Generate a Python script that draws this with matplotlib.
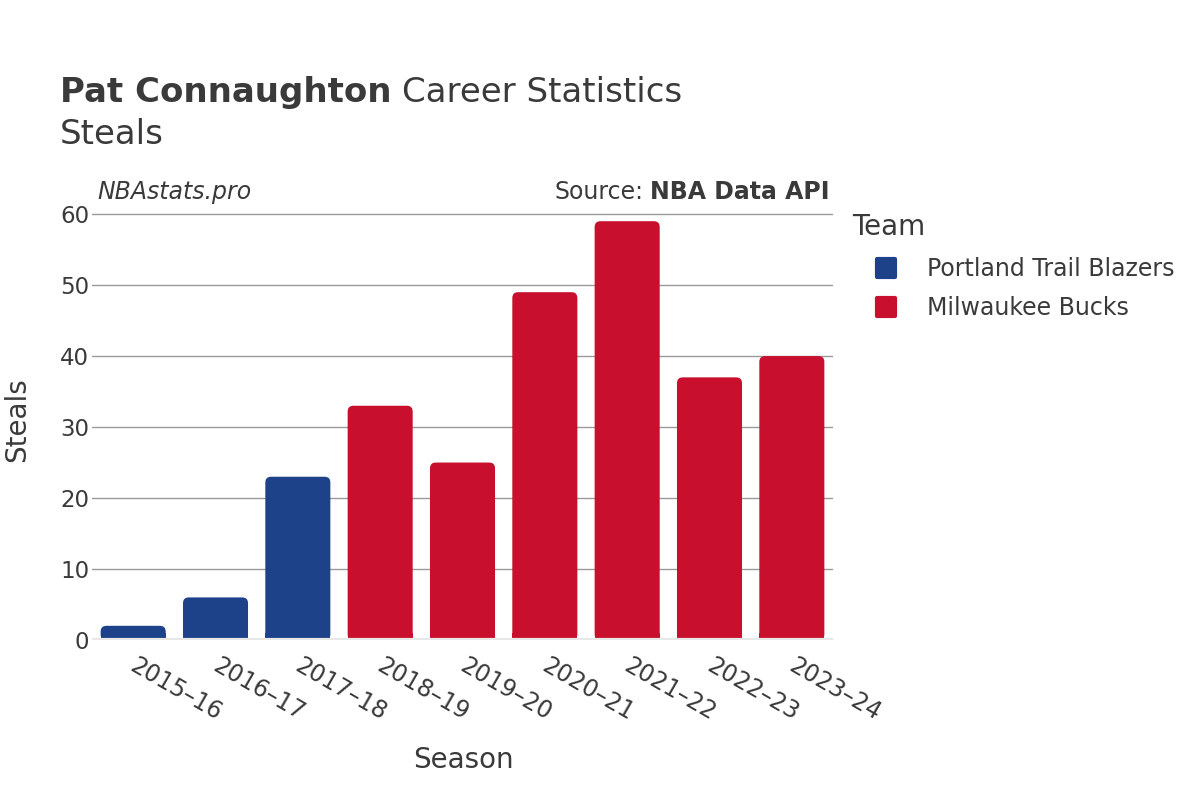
import matplotlib
matplotlib.use("Agg")
import matplotlib.pyplot as plt
from matplotlib.patches import FancyBboxPatch
from matplotlib.lines import Line2D
from matplotlib.markers import MarkerStyle

seasons = ["2015–16", "2016–17", "2017–18", "2018–19", "2019–20",
           "2020–21", "2021–22", "2022–23", "2023–24"]
steals = [2, 6, 23, 33, 25, 49, 59, 37, 40]
teams = ["Portland Trail Blazers", "Portland Trail Blazers", "Portland Trail Blazers",
         "Milwaukee Bucks", "Milwaukee Bucks", "Milwaukee Bucks",
         "Milwaukee Bucks", "Milwaukee Bucks", "Milwaukee Bucks"]
team_order = ["Portland Trail Blazers", "Milwaukee Bucks"]
team_colors = {"Portland Trail Blazers": "#1D428A", "Milwaukee Bucks": "#C8102E"}
yticks = [0, 10, 20, 30, 40, 50, 60]

plt.rcParams['font.family'] = ['DejaVu Sans']
TXT = "#3a3a3a"

fig = plt.figure(figsize=(12, 8), dpi=100)
ax = fig.add_axes([92/1200, 160/800, (833-92)/1200, (640-207)/800])
ax.set_xlim(-0.5, len(seasons) - 0.5)
ax.set_ylim(0, 61)

bw = 0.79
xpx = (833-92) / len(seasons)
ypx = (640-207) / 61
aspect = xpx / ypx
for i, (v, t) in enumerate(zip(steals, teams)):
    p = FancyBboxPatch((i - bw/2, 0), bw, v,
                       boxstyle="round,pad=0,rounding_size=0.07",
                       mutation_aspect=aspect,
                       facecolor=team_colors[t], edgecolor="none", zorder=3)
    ax.add_patch(p)
    ax.bar(i, min(v, 1.0), width=bw, bottom=0, color=team_colors[t], zorder=3,
           linewidth=0)

for y in yticks[1:]:
    ax.axhline(y, color="#9a9a9a", linewidth=1, zorder=1)
ax.axhline(0, color="#e8e8e8", linewidth=3, zorder=4)

for s in ax.spines.values():
    s.set_visible(False)
ax.set_yticks(yticks)
ax.set_yticklabels([str(y) for y in yticks], fontsize=16.5, color=TXT)
ax.tick_params(axis='y', length=0, pad=2)
ax.set_xticks(range(len(seasons)))
ax.set_xticklabels(seasons, rotation=-30, ha='left', va='top',
                   rotation_mode='anchor', fontsize=17, color=TXT)
ax.tick_params(axis='x', length=0, pad=10)
from matplotlib.transforms import ScaledTranslation
off = ScaledTranslation(5/100, 0, fig.dpi_scale_trans)
for lbl in ax.get_xticklabels():
    lbl.set_transform(lbl.get_transform() + off)

fig.text(17/1200, 1 - 420/800, "Steals", rotation=90, ha='center', va='center',
         fontsize=20, color=TXT)
fig.text(463/1200, 1 - 760/800, "Season", ha='center', va='center',
         fontsize=20, color=TXT)

t1 = fig.text(60/1200, 1 - 102/800, "Pat Connaughton", fontsize=24.5, fontweight='bold',
              color=TXT, va='baseline')
fig.canvas.draw()
bb = t1.get_window_extent()
fig.text(bb.x1/1200 + 0.009, 1 - 102/800, "Career Statistics", fontsize=24.5,
         color=TXT, va='baseline')
fig.text(60/1200, 1 - 144/800, "Steals", fontsize=24.5, color=TXT, va='baseline')

fig.text(97/1200, 1 - 192/800, "NBAstats.pro", fontsize=17, style='italic',
         color=TXT, va='center')
s2 = fig.text(830/1200, 1 - 192/800, "NBA Data API", fontsize=17, fontweight='bold',
              color=TXT, va='center', ha='right')
fig.canvas.draw()
bb2 = s2.get_window_extent()
fig.text(bb2.x0/1200 - 0.006, 1 - 192/800, "Source:", fontsize=17,
         color=TXT, va='center', ha='right')

handles = [Line2D([0], [0], marker=MarkerStyle('s', joinstyle='round'), linestyle='none',
                  markersize=13, markeredgewidth=3,
                  markerfacecolor=team_colors[t], markeredgecolor=team_colors[t])
           for t in team_order]
leg = fig.legend(handles, team_order, title="Team", loc='upper left',
                 bbox_to_anchor=(843/1200, 1 - 204/800), frameon=False,
                 fontsize=17, title_fontsize=20, handlelength=2.8,
                 handletextpad=0.34, labelspacing=0.65, borderaxespad=0)
leg._legend_box.align = "left"
for txt in leg.get_texts():
    txt.set_color(TXT)
leg.get_title().set_color(TXT)

fig.savefig("out.png", dpi=100)
